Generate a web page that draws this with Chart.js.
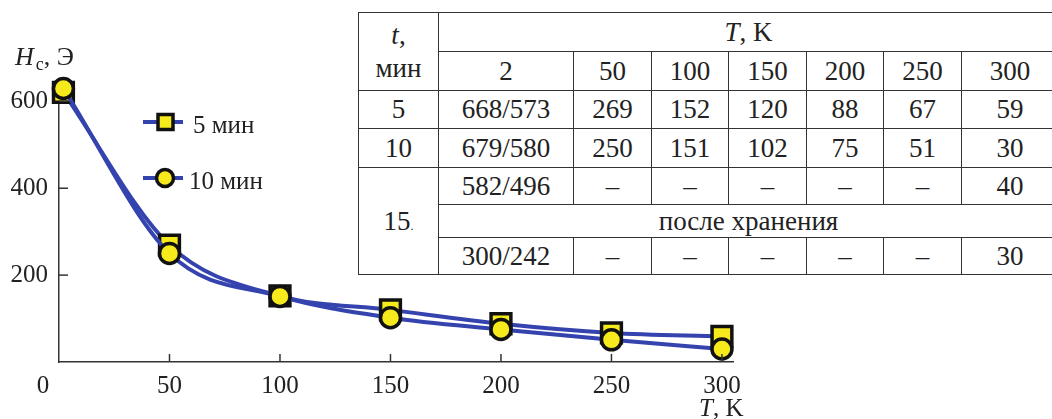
<!DOCTYPE html>
<html lang="ru">
<head>
<meta charset="UTF-8">
<title>Hc(T)</title>
<script src="https://cdn.jsdelivr.net/npm/chart.js"></script>
<style>
    html, body {
        margin: 0;
        padding: 0;
        background: #fff;
    }

    .wrap {
        position: relative;
        width: 1052px;
        height: 419px;
        overflow: hidden;
    }

    #chart {
        position: absolute;
        left: 0;
        top: 0;
    }

    table.data {
        position: absolute;
        left: 358px;
        top: 12px;
        border-collapse: collapse;
        table-layout: fixed;
        width: 700px;
        font-family: 'Liberation Serif', serif;
        font-size: 27px;
        color: #222;
        background: #fff;
    }

    table.data td {
        border: 1.5px solid #333;
        text-align: center;
        padding: 0;
        line-height: 1;
        white-space: nowrap;
        overflow: hidden;
    }

    table.data .head-t {
        line-height: 33px;
    }
</style>
</head>
<body>
<div class="wrap">
    <canvas id="chart" width="1052" height="419"></canvas>
    <table class="data" id="dataTable"></table>
</div>

<script>
    // plotted data
    const temps = [2, 50, 100, 150, 200, 250, 300];
    const hc5 = [620.5, 269, 152, 120, 88, 67, 59];
    const hc10 = [629.5, 250, 151, 102, 75, 51, 30];
    const xTicks = [50, 100, 150, 200, 250, 300];
    const yTicks = [200, 400, 600];

    // table text
    const tableTemps = ['2', '50', '100', '150', '200', '250', '300'];
    const row5 = ['668/573', '269', '152', '120', '88', '67', '59'];
    const row10 = ['679/580', '250', '151', '102', '75', '51', '30'];
    const row15 = ['582/496', '–', '–', '–', '–', '–', '40'];
    const row15after = ['300/242', '–', '–', '–', '–', '–', '30'];

    const blue = '#3443ad';
    const yellow = '#f6ea1c';
    const serif = "'Liberation Serif', serif";

    function buildTable() {
        const colW = [80, 135, 78, 77, 78, 77, 78, 97];
        const rowH = [39, 39, 38, 39, 37, 33, 37];
        let html = '<colgroup>' + colW.map(w => `<col style="width:${w}px">`).join('') + '</colgroup>';
        const cells = arr => arr.map(v => `<td>${v}</td>`).join('');
        html += `<tr style="height:${rowH[0]}px"><td rowspan="2" class="head-t"><i>t</i>,<br>мин</td>` +
                `<td colspan="7"><i>T</i>, K</td></tr>`;
        html += `<tr style="height:${rowH[1]}px">${cells(tableTemps)}</tr>`;
        html += `<tr style="height:${rowH[2]}px"><td>5</td>${cells(row5)}</tr>`;
        html += `<tr style="height:${rowH[3]}px"><td>10</td>${cells(row10)}</tr>`;
        html += `<tr style="height:${rowH[4]}px"><td rowspan="3">15<span style="font-size:12px">.</span></td>${cells(row15)}</tr>`;
        html += `<tr style="height:${rowH[5]}px"><td colspan="7">после хранения</td></tr>`;
        html += `<tr style="height:${rowH[6]}px">${cells(row15after)}</tr>`;
        document.getElementById('dataTable').innerHTML = html;
    }

    const decor = {
        id: 'decor',
        afterDraw(chart) {
            const c = chart.ctx;
            const xs = chart.scales.x;
            const ys = chart.scales.y;
            c.save();
            c.strokeStyle = '#333';
            c.lineWidth = 1.5;
            // ticks point inward
            xTicks.forEach(v => {
                const px = xs.getPixelForValue(v);
                c.beginPath();
                c.moveTo(px, ys.bottom);
                c.lineTo(px, ys.bottom - 8);
                c.stroke();
            });
            yTicks.forEach(v => {
                const py = ys.getPixelForValue(v);
                c.beginPath();
                c.moveTo(xs.left, py);
                c.lineTo(xs.left + 9, py);
                c.stroke();
            });

            c.fillStyle = '#222';
            c.textBaseline = 'alphabetic';
            // origin label
            c.font = '25px ' + serif;
            c.textAlign = 'center';
            c.fillText('0', 43, 393);

            // y title
            c.textAlign = 'left';
            c.font = 'italic 26px ' + serif;
            c.fillText('H', 15, 65);
            let w = c.measureText('H').width;
            c.font = '18px ' + serif;
            c.fillText('c', 17 + w, 70);
            w += c.measureText('c').width + 2;
            c.font = '26px ' + serif;
            c.fillText(', Э', 15 + w, 65);

            // x title
            c.font = 'italic 25px ' + serif;
            c.fillText('T', 699, 416);
            w = c.measureText('T').width;
            c.font = '25px ' + serif;
            c.fillText(', K', 699 + w, 416);

            // legend
            const items = [
                { y: 122, label: '5 мин', style: 'rect', tx: 193, ty: 133 },
                { y: 178, label: '10 мин', style: 'circle', tx: 189, ty: 189 }
            ];
            items.forEach(it => {
                c.strokeStyle = blue;
                c.lineWidth = 4;
                c.beginPath();
                c.moveTo(143, it.y);
                c.lineTo(183, it.y);
                c.stroke();
                c.fillStyle = yellow;
                c.strokeStyle = '#111';
                c.lineWidth = 3.5;
                c.beginPath();
                if (it.style === 'rect') {
                    c.rect(158, it.y - 7.5, 15, 15);
                } else {
                    c.arc(165, it.y, 8.5, 0, Math.PI * 2);
                }
                c.fill();
                c.stroke();
                c.fillStyle = '#222';
                c.font = '25px ' + serif;
                c.fillText(it.label, it.tx, it.ty);
            });
            c.restore();
        }
    };

    function points(vals) {
        return temps.map((t, i) => ({ x: t, y: vals[i] }));
    }

    buildTable();

    new Chart(document.getElementById('chart'), {
        type: 'line',
        data: {
            datasets: [
                {
                    label: '10 мин',
                    data: points(hc10),
                    borderColor: blue,
                    borderWidth: 4,
                    cubicInterpolationMode: 'monotone',
                    pointStyle: 'circle',
                    pointRadius: 10,
                    pointBorderWidth: 3.5,
                    pointBackgroundColor: yellow,
                    pointBorderColor: '#111',
                    clip: false
                },
                {
                    label: '5 мин',
                    data: points(hc5),
                    borderColor: blue,
                    borderWidth: 4,
                    cubicInterpolationMode: 'monotone',
                    pointStyle: 'rect',
                    pointRadius: 14,
                    pointBorderWidth: 3.5,
                    pointBackgroundColor: yellow,
                    pointBorderColor: '#111',
                    clip: false
                }
            ]
        },
        options: {
            responsive: false,
            animation: false,
            devicePixelRatio: 1,
            layout: { padding: { left: 0, top: 97, right: 319, bottom: 0 } },
            plugins: {
                legend: { display: false },
                tooltip: { enabled: false }
            },
            scales: {
                x: {
                    type: 'linear',
                    min: 0,
                    max: 305,
                    grid: { display: false, drawTicks: false },
                    border: { color: '#333', width: 1.5 },
                    ticks: {
                        padding: 9,
                        color: '#222',
                        font: { family: serif, size: 25 }
                    },
                    afterBuildTicks: s => { s.ticks = xTicks.map(v => ({ value: v })); },
                    afterFit: s => { s.height = 57; }
                },
                y: {
                    min: 0,
                    max: 610,
                    grid: { display: false, drawTicks: false },
                    border: { color: '#333', width: 1.5 },
                    ticks: {
                        padding: 11,
                        color: '#222',
                        font: { family: serif, size: 25 }
                    },
                    afterBuildTicks: s => { s.ticks = yTicks.map(v => ({ value: v })); },
                    afterFit: s => { s.width = 59; }
                }
            }
        },
        plugins: [decor]
    });
</script>
</body>
</html>
